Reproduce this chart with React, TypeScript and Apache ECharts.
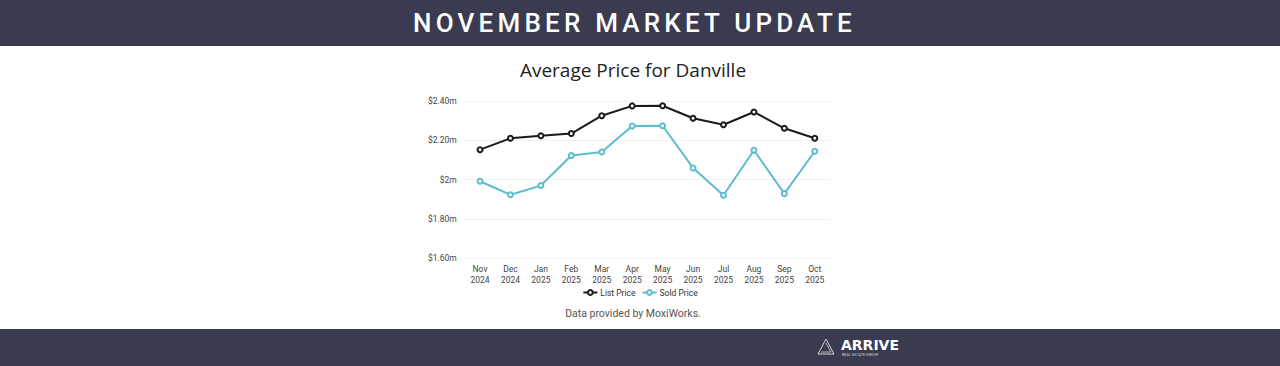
import React, { useEffect, useRef } from "react";
import * as echarts from "echarts";

const months = ["Nov\n2024", "Dec\n2024", "Jan\n2025", "Feb\n2025", "Mar\n2025", "Apr\n2025", "May\n2025", "Jun\n2025", "Jul\n2025", "Aug\n2025", "Sep\n2025", "Oct\n2025"];
const listPrice = [2.152, 2.21, 2.223, 2.234, 2.325, 2.375, 2.376, 2.312, 2.279, 2.344, 2.261, 2.21];
const soldPrice = [1.991, 1.922, 1.969, 2.122, 2.14, 2.273, 2.274, 2.059, 1.92, 2.149, 1.928, 2.144];
const seriesNames = ["List Price", "Sold Price"];
const headerText = "NOVEMBER MARKET UPDATE";
const chartTitle = "Average Price for Danville";
const sourceText = "Data provided by MoxiWorks.";

const NAVY = "#3a3b50";

export default function App() {
  const ref = useRef<HTMLDivElement>(null);
  useEffect(() => {
    if (!ref.current) return;
    const chart = echarts.init(ref.current, undefined, { renderer: "svg" });
    chart.setOption({
      animation: false,
      backgroundColor: "#ffffff",
      legend: {
        data: seriesNames,
        left: "center",
        top: 283,
        itemWidth: 14,
        itemHeight: 6,
        itemGap: 6,
        textStyle: { fontFamily: "Roboto", fontSize: 8.5, color: "#333", padding: [0, 0, 0, -2] },
      },
      grid: { left: 464.8, right: 450, top: 101, bottom: 108 },
      xAxis: {
        type: "category",
        data: months,
        boundaryGap: true,
        axisLine: { show: false },
        axisTick: { show: false },
        axisLabel: { fontFamily: "Roboto", fontSize: 8.5, color: "#444", lineHeight: 11, margin: 5 },
      },
      yAxis: {
        type: "value",
        min: 1.6,
        max: 2.4,
        interval: 0.2,
        axisLine: { show: false },
        axisTick: { show: false },
        splitLine: { lineStyle: { color: "#f2f2f2", width: 1 } },
        axisLabel: {
          fontFamily: "Roboto",
          fontSize: 8.5,
          color: "#444",
          margin: 8,
          formatter: (v: number) => (Math.abs(v - 2) < 1e-9 ? "$2m" : "$" + v.toFixed(2) + "m"),
        },
      },
      series: [
        {
          name: seriesNames[0],
          type: "line",
          data: listPrice,
          symbol: "emptyCircle",
          symbolSize: 5,
          color: "#1a1a1a",
          lineStyle: { width: 2, color: "#1a1a1a" },
          itemStyle: { color: "#1a1a1a", borderWidth: 1.6 },
        },
        {
          name: seriesNames[1],
          type: "line",
          data: soldPrice,
          symbol: "emptyCircle",
          symbolSize: 5,
          color: "#5dbdcd",
          lineStyle: { width: 2, color: "#5dbdcd" },
          itemStyle: { color: "#5dbdcd", borderWidth: 1.6 },
        },
      ],
      graphic: [
        { type: "rect", left: 0, top: 0, shape: { width: 1280, height: 46 }, style: { fill: NAVY } },
        { type: "rect", left: 0, top: 329, shape: { width: 1280, height: 37 }, style: { fill: NAVY } },
        {
          type: "text",
          x: 633,
          y: 70,
          style: {
            text: chartTitle,
            fontFamily: "Open Sans",
            fontSize: 19,
            fill: "#222",
            textAlign: "center",
            textVerticalAlign: "middle",
          },
        },
        {
          type: "text",
          x: 633,
          y: 313,
          style: {
            text: sourceText,
            fontFamily: "Roboto",
            fontSize: 10.5,
            fill: "#555",
            textAlign: "center",
            textVerticalAlign: "middle",
          },
        },
        {
          type: "polygon",
          shape: { points: [[826, 339], [834, 354], [818, 354]] },
          style: { fill: "none", stroke: "#cfd0d8", lineWidth: 1 },
        },
        {
          type: "polyline",
          shape: { points: [[826, 343], [831, 352], [821, 352]] },
          style: { fill: "none", stroke: "#cfd0d8", lineWidth: 0.8 },
        },
        {
          type: "text",
          x: 841,
          y: 337.5,
          style: { text: "ARRIVE", fontFamily: "DejaVu Sans", fontWeight: "bold", fontSize: 14, fill: "#ffffff" },
        },
        {
          type: "text",
          x: 842,
          y: 352,
          style: { text: "REAL ESTATE GROUP", fontFamily: "Roboto", fontSize: 3.8, fill: "#cfd0d8" },
        },
      ],
    });
    return () => chart.dispose();
  }, []);
  return (
    <div style={{ position: "fixed", left: 0, top: 0, width: 1280, height: 366 }}>
      <div ref={ref} style={{ position: "absolute", left: 0, top: 0, width: 1280, height: 366 }} />
      <div
        style={{
          position: "absolute",
          left: 0,
          top: 0,
          width: 1280,
          height: 46,
          display: "flex",
          alignItems: "center",
          justifyContent: "center",
          color: "#ffffff",
          fontFamily: "Roboto",
          fontWeight: 500,
          fontSize: 26,
          letterSpacing: "4.2px",
          paddingRight: 11,
          boxSizing: "border-box",
          pointerEvents: "none",
        }}
      >
        {headerText}
      </div>
    </div>
  );
}
